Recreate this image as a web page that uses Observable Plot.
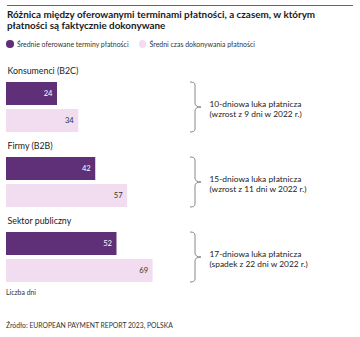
<!DOCTYPE html>
<html><head><meta charset="utf-8">
<script src="https://cdn.jsdelivr.net/npm/d3@7"></script>
<script src="https://cdn.jsdelivr.net/npm/@observablehq/plot@0.6"></script>
<style>
  body{margin:0;width:360px;height:337px;position:relative;background:#fff;font-family:Lato,"Noto Sans",sans-serif;color:#222;overflow:hidden}
  .topline{position:absolute;left:7px;top:5px;width:346px;border-top:1.2px solid #666}
  .title{position:absolute;left:7px;top:9px;width:350px;font-weight:700;font-size:9.9px;line-height:10.5px;color:#1a1a1a}
  .legend{position:absolute;left:6px;top:40px;display:flex;align-items:center;font-size:6.95px;color:#333}
  .legend span.sw{display:inline-block;width:7.5px;height:7.5px;border-radius:50%;margin-right:3.5px}
  .legend .item{display:flex;align-items:center;margin-right:10px}
  #chart{position:absolute;left:0;top:55px}
  .unit{position:absolute;left:6px;top:288px;font-size:6.9px;line-height:9px;color:#333}
  .source{position:absolute;left:6px;top:321px;font-size:6.8px;line-height:9px;color:#333}
</style></head>
<body>
<div class="topline"></div>
<div class="title" id="title"></div>
<div class="legend" id="legend"></div>
<div id="chart"></div>
<div class="unit" id="unit"></div>
<div class="source" id="source"></div>
<script>
const titleText = "Różnica między oferowanymi terminami płatności, a czasem, w którym płatności są faktycznie dokonywane";
const groups = ["Konsumenci (B2C)", "Firmy (B2B)", "Sektor publiczny"];
const seriesNames = ["Średnie oferowane terminy płatności", "Średni czas dokonywania płatności"];
const offeredTerms = [24, 42, 52];
const actualTimes = [34, 57, 69];
const gapIn2022 = [9, 11, 22];
const unitLabel = "Liczba dni";
const sourceText = "Źródło: EUROPEAN PAYMENT REPORT 2023, POLSKA";
const colors = ["#5f3077", "#f2dcef"];

document.getElementById("title").textContent = titleText;
document.getElementById("unit").textContent = unitLabel;
document.getElementById("source").textContent = sourceText;
const leg = document.getElementById("legend");
seriesNames.forEach((s, i) => {
  const it = document.createElement("div"); it.className = "item";
  const sw = document.createElement("span"); sw.className = "sw"; sw.style.background = colors[i];
  it.appendChild(sw); it.appendChild(document.createTextNode(s)); leg.appendChild(it);
});

const data = [];
groups.forEach((g, i) => {
  data.push({group: g, series: seriesNames[0], value: offeredTerms[i]});
  data.push({group: g, series: seriesNames[1], value: actualTimes[i]});
});
const gaps = groups.map((g, i) => {
  const gap = actualTimes[i] - offeredTerms[i];
  return {group: g, gap, prev: gapIn2022[i], dir: gap > gapIn2022[i] ? "wzrost" : "spadek"};
});

// Custom faceted mark: a curly brace spanning both bars of a group
class Brace extends Plot.Mark {
  constructor(data, options = {}) {
    super(data, {}, options, {});
    this.offset = options.offset ?? 184;
  }
  render(index, scales, values, dimensions) {
    const bw = typeof scales.y.bandwidth === "function" ? scales.y.bandwidth() : scales.y.bandwidth;
    const y0 = scales.y(seriesNames[0]);
    const y1 = scales.y(seriesNames[1]) + bw;
    const m = (y0 + y1) / 2;
    const xs = dimensions.marginLeft + this.offset, xv = xs + 5, xt = xs + 11, r = 3;
    const p = `M${xs},${y0} Q${xv},${y0} ${xv},${y0 + r} L${xv},${m - 4} Q${xv},${m} ${xt},${m} Q${xv},${m} ${xv},${m + 4} L${xv},${y1 - r} Q${xv},${y1} ${xs},${y1}`;
    const g = document.createElementNS("http://www.w3.org/2000/svg", "path");
    g.setAttribute("d", p);
    g.setAttribute("fill", "none");
    g.setAttribute("stroke", "#7a7a7a");
    g.setAttribute("stroke-width", "0.9");
    return g;
  }
}

const plot = Plot.plot({
  width: 360,
  height: 233,
  marginTop: 8,
  marginBottom: 0,
  marginLeft: 6,
  marginRight: 141.5,
  style: {fontFamily: "Lato, 'Noto Sans', sans-serif", background: "transparent"},
  x: {domain: [0, 100], axis: null},
  y: {domain: seriesNames, axis: null, paddingInner: 0.164, paddingOuter: 0, insetTop: 19, insetBottom: 5.5},
  fy: {domain: groups, axis: null, padding: 0},
  color: {domain: seriesNames, range: colors},
  marks: [
    Plot.barX(data, {fy: "group", y: "series", x: "value", fill: "series"}),
    Plot.text(data.filter(d => d.series === seriesNames[0]), {fy: "group", y: "series", x: "value", text: "value", textAnchor: "end", dx: -5, fill: "white", fontSize: 7.6}),
    Plot.text(data.filter(d => d.series === seriesNames[1]), {fy: "group", y: "series", x: "value", text: "value", textAnchor: "end", dx: -5, fill: "#333", fontSize: 7.6}),
    Plot.text(groups, {fy: d => d, text: d => d, frameAnchor: "top-left", dy: 4.5, dx: 1, fontSize: 8.8, fill: "#222"}),
    Plot.text(gaps, {fy: "group", text: d => `${d.gap}-dniowa luka płatnicza\n(${d.dir} z ${d.prev} dni w 2022 r.)`, frameAnchor: "left", textAnchor: "start", dx: 203, dy: 7.5, fontSize: 8.4, lineHeight: 1.18, fill: "#222"}),
    new Brace(groups, {fy: d => d, offset: 184})
  ]
});
document.getElementById("chart").appendChild(plot);
</script>
</body></html>
